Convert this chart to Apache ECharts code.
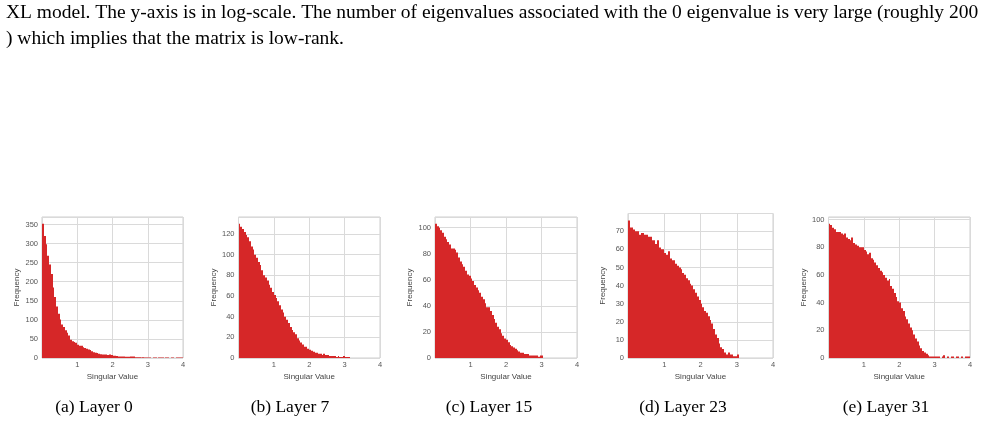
<!DOCTYPE html>
<html><head><meta charset="utf-8">
<script src="https://cdn.jsdelivr.net/npm/echarts@6/dist/echarts.min.js"></script>
<style>html,body{margin:0;padding:0;background:#fff}#c{width:985px;height:423px}</style>
</head><body><div id="c"></div>
<script>
// ---------- data ----------
const binStart = 0;
const binWidth = 0.05;
const layer0 = [352, 320, 298, 268, 245, 220, 185, 160, 135, 116, 101, 88, 81, 73, 66, 59, 48, 44, 42, 40,
  35, 32, 32, 28, 26, 24, 22, 21, 18, 15, 14, 13, 11, 10, 9, 9, 9, 8, 9, 8,
  6, 6, 5, 4, 4, 4, 4, 3, 3, 3, 4, 4, 4, 2, 2, 2, 1, 2, 1, 1,
  1, 1, 0, 1, 1, 0, 1, 1, 1, 0, 1, 1, 0, 1, 1, 0, 1, 1, 1, 1];
const layer7 = [130, 127, 125, 122, 119, 117, 113, 108, 105, 100, 97, 93, 90, 85, 80, 78, 75, 71, 68, 64,
  61, 58, 55, 51, 47, 44, 40, 37, 34, 30, 27, 25, 23, 19, 17, 15, 13, 11, 11, 9,
  8, 7, 6, 5, 5, 4, 4, 3, 4, 3, 3, 2, 2, 2, 2, 1, 2, 1, 1, 2, 1, 1, 1];
const layer15 = [103, 101, 100, 98, 96, 93, 91, 89, 87, 84, 84, 83, 81, 77, 74, 72, 70, 67, 64, 63,
  61, 59, 56, 54, 52, 50, 47, 45, 42, 39, 39, 36, 33, 30, 27, 24, 22, 19, 17, 15,
  14, 12, 10, 9, 8, 7, 6, 5, 4, 4, 3, 3, 3, 2, 2, 2, 2, 2, 1, 2, 2];
const layer23 = [76, 72, 72, 71, 70, 70, 68, 69, 69, 68, 68, 67, 67, 65, 65, 63, 65, 61, 60, 60,
  58, 57, 59, 55, 54, 54, 52, 51, 50, 49, 47, 46, 44, 43, 41, 40, 38, 36, 34, 32,
  30, 28, 26, 25, 23, 21, 19, 16, 13, 11, 8, 6, 5, 3, 2, 3, 2, 2, 1, 1, 2];
const layer31 = [97, 96, 94, 93, 91, 91, 91, 90, 89, 90, 87, 86, 85, 87, 83, 82, 81, 80, 80, 80,
  78, 77, 75, 76, 72, 71, 69, 67, 65, 63, 62, 60, 58, 56, 57, 52, 50, 47, 44, 41,
  40, 36, 34, 30, 28, 25, 22, 20, 17, 14, 12, 9, 7, 5, 4, 3, 2, 1, 1, 1,
  1, 1, 1, 0, 1, 2, 0, 1, 0, 1, 1, 0, 1, 1, 0, 1, 0, 1, 1, 1];
const panels = [layer0, layer7, layer15, layer23, layer31];
const captions = ['(a) Layer 0', '(b) Layer 7', '(c) Layer 15', '(d) Layer 23', '(e) Layer 31'];
const yTickSteps = [50, 20, 20, 10, 20];
const xMin = 0, xMax = 4, xTickStep = 1;
const xName = 'Singular Value';
const yName = 'Frequency';
const bodyLine1 = 'XL model. The y-axis is in log-scale. The number of eigenvalues associated with the 0 eigenvalue is very large (roughly 200';
const bodyLine2 = ') which implies that the matrix is low-rank.';

// ---------- layout ----------
const gridBoxes = [
  {left: 42, top: 217, width: 141, height: 141},
  {left: 238.5, top: 217, width: 141.5, height: 141},
  {left: 435, top: 217, width: 142, height: 141},
  {left: 628, top: 213.5, width: 145, height: 144.5},
  {left: 828.5, top: 217, width: 141.5, height: 141}
];
const captionX = [94, 290, 489, 683, 886];

const RED = '#d62728';
const sans = 'Liberation Sans';
const serif = 'Liberation Serif';

const grids = [], xAxes = [], yAxes = [], series = [], graphics = [];
panels.forEach((vals, i) => {
  grids.push(Object.assign({show: true, borderColor: '#cfcfcf', borderWidth: 1, containLabel: false}, gridBoxes[i]));
  xAxes.push({
    type: 'value', gridIndex: i, min: xMin, max: xMax, interval: xTickStep,
    name: xName, nameLocation: 'middle', nameGap: 15,
    nameTextStyle: {fontFamily: sans, fontSize: 8, color: '#444'},
    axisLine: {show: false}, axisTick: {show: false},
    axisLabel: {showMinLabel: false, fontFamily: sans, fontSize: 7.5, color: '#555', margin: 3},
    splitLine: {show: true, lineStyle: {color: '#dadada', width: 1}}
  });
  yAxes.push({
    type: 'value', gridIndex: i, min: 0, max: v => v.max * 1.05, interval: yTickSteps[i],
    name: yName, nameLocation: 'middle', nameGap: 21,
    nameTextStyle: {fontFamily: sans, fontSize: 8, color: '#444'},
    axisLine: {show: false}, axisTick: {show: false},
    axisLabel: {showMaxLabel: false, fontFamily: sans, fontSize: 7.5, color: '#555', margin: 4},
    splitLine: {show: true, lineStyle: {color: '#dadada', width: 1}}
  });
  const data = vals.map((v, k) => [binStart + k * binWidth, binStart + (k + 1) * binWidth, v]);
  series.push({
    type: 'custom', xAxisIndex: i, yAxisIndex: i, data: data,
    encode: {x: [0, 1], y: 2},
    clip: true, silent: true,
    renderItem: function (params, api) {
      const y = api.value(2);
      if (!y) return null;
      const p0 = api.coord([api.value(0), y]);
      const p1 = api.coord([api.value(1), 0]);
      const xa = Math.round(p0[0]), xb = Math.round(p1[0]);
      return {type: 'rect', shape: {x: xa, y: p0[1], width: Math.max(1, xb - xa), height: p1[1] - p0[1]},
        style: {fill: RED}};
    }
  });
  graphics.push({type: 'text', x: captionX[i], y: 407,
    style: {text: captions[i], font: '17.5px "' + serif + '"', fill: '#000', align: 'center', verticalAlign: 'middle'}});
});
graphics.push({type: 'text', left: 6, top: 3, style: {text: bodyLine1, font: '19.5px "' + serif + '"', fill: '#000'}});
graphics.push({type: 'text', left: 6, top: 29, style: {text: bodyLine2, font: '19.5px "' + serif + '"', fill: '#000'}});

const chart = echarts.init(document.getElementById('c'), null, {renderer: 'canvas'});
chart.setOption({
  animation: false,
  backgroundColor: '#fff',
  grid: grids, xAxis: xAxes, yAxis: yAxes, series: series, graphic: graphics
});
</script></body></html>
